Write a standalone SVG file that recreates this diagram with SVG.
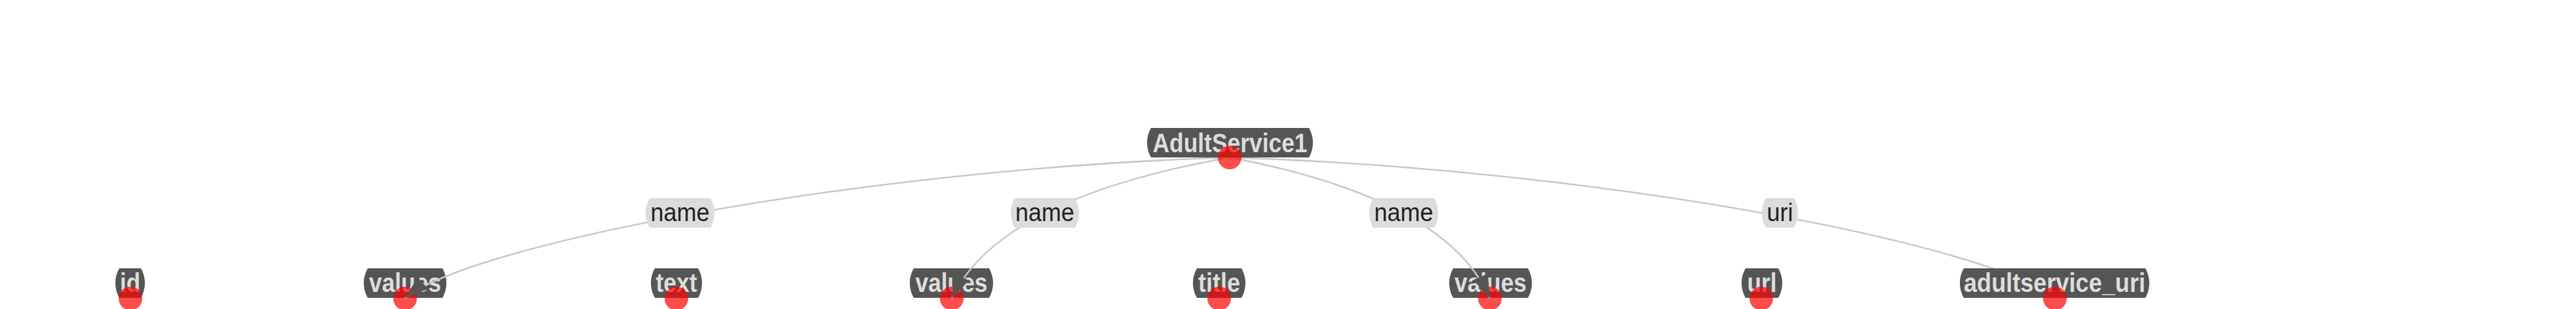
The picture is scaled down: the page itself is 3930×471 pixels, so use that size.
<svg xmlns="http://www.w3.org/2000/svg" width="3930" height="471" viewBox="0 0 3930 471">
<style>
.nb{fill:#555555}
.nt{font-family:"Liberation Sans",Arial,sans-serif;font-weight:bold;font-size:41px;fill:#dddddd;text-anchor:middle}
.lb{fill:#dcdcdc}
.lt{font-family:"Liberation Sans",Arial,sans-serif;font-size:38px;fill:#222222;text-anchor:middle}
.dot{fill:#ff0000;fill-opacity:0.7}
.edge{fill:none;stroke:#c8c8c8;stroke-width:2.5;marker-end:url(#arrow)}
</style>
<defs>
<marker id="arrow" markerUnits="userSpaceOnUse" viewBox="0 -14 38 28" markerWidth="38" markerHeight="28" refX="36" refY="0" orient="auto">
<path d="M0,-12 L36,0 L0,12 Z" fill="#555555"/>
</marker>
</defs>
<rect width="3930" height="471" fill="#ffffff"/>

<g id="node-id">
<path class="nb" d="M182,409 H215 A45,45 0 0 1 215,454 H182 A45,45 0 0 1 182,409 Z"/>
<text class="nt" x="198.5" y="445" textLength="31" lengthAdjust="spacingAndGlyphs">id</text>
<circle class="dot" cx="199" cy="455" r="18"/>
</g>
<g id="node-values1">
<path class="nb" d="M561,409 H675 A45,45 0 0 1 675,454 H561 A45,45 0 0 1 561,409 Z"/>
<text class="nt" x="618" y="445" textLength="110" lengthAdjust="spacingAndGlyphs">values</text>
<circle class="dot" cx="618" cy="455" r="18"/>
</g>
<g id="node-text">
<path class="nb" d="M999,409 H1065 A45,45 0 0 1 1065,454 H999 A45,45 0 0 1 999,409 Z"/>
<text class="nt" x="1032" y="445" textLength="63" lengthAdjust="spacingAndGlyphs">text</text>
<circle class="dot" cx="1032" cy="455" r="18"/>
</g>
<g id="node-values2">
<path class="nb" d="M1394,409 H1509 A45,45 0 0 1 1509,454 H1394 A45,45 0 0 1 1394,409 Z"/>
<text class="nt" x="1451.5" y="445" textLength="110" lengthAdjust="spacingAndGlyphs">values</text>
<circle class="dot" cx="1452" cy="455" r="18"/>
</g>
<g id="node-title">
<path class="nb" d="M1826,409 H1894 A45,45 0 0 1 1894,454 H1826 A45,45 0 0 1 1826,409 Z"/>
<text class="nt" x="1860" y="445" textLength="64" lengthAdjust="spacingAndGlyphs">title</text>
<circle class="dot" cx="1860" cy="455" r="18"/>
</g>
<g id="node-values3">
<path class="nb" d="M2217,409 H2331 A45,45 0 0 1 2331,454 H2217 A45,45 0 0 1 2217,409 Z"/>
<text class="nt" x="2274" y="445" textLength="110" lengthAdjust="spacingAndGlyphs">values</text>
<circle class="dot" cx="2273" cy="455" r="18"/>
</g>
<g id="node-url">
<path class="nb" d="M2663,409 H2713 A45,45 0 0 1 2713,454 H2663 A45,45 0 0 1 2663,409 Z"/>
<text class="nt" x="2688" y="445" textLength="45" lengthAdjust="spacingAndGlyphs">url</text>
<circle class="dot" cx="2687" cy="455" r="18"/>
</g>

<g id="connectors">
<path class="edge" d="M1876,240 C1300,258 710,375 618,455"/>
<path class="edge" d="M1876,240 Q1524,302.5 1452,455"/>
<path class="edge" d="M1876,240 Q2207.5,302.5 2273,455"/>
<path class="edge" d="M1876,240 C2452,258 3042,375 3135,455"/>
</g>

<g id="edge-labels">
<g id="label-name1">
<path class="lb" d="M991,302 H1084 A45,45 0 0 1 1084,347 H991 A45,45 0 0 1 991,302 Z"/>
<text class="lt" x="1037.5" y="337" textLength="90" lengthAdjust="spacingAndGlyphs">name</text>
</g>
<g id="label-name2">
<path class="lb" d="M1548,302 H1640 A45,45 0 0 1 1640,347 H1548 A45,45 0 0 1 1548,302 Z"/>
<text class="lt" x="1594" y="337" textLength="90" lengthAdjust="spacingAndGlyphs">name</text>
</g>
<g id="label-name3">
<path class="lb" d="M2095,302 H2188 A45,45 0 0 1 2188,347 H2095 A45,45 0 0 1 2095,302 Z"/>
<text class="lt" x="2141.5" y="337" textLength="90" lengthAdjust="spacingAndGlyphs">name</text>
</g>
<g id="label-uri">
<path class="lb" d="M2694,302 H2737 A45,45 0 0 1 2737,347 H2694 A45,45 0 0 1 2694,302 Z"/>
<text class="lt" x="2715.5" y="337" textLength="40" lengthAdjust="spacingAndGlyphs">uri</text>
</g>
</g>

<g id="node-adultservice_uri">
<path class="nb" d="M2996,409 H3273 A45,45 0 0 1 3273,454 H2996 A45,45 0 0 1 2996,409 Z"/>
<text class="nt" x="3134.5" y="445" textLength="277" lengthAdjust="spacingAndGlyphs">adultservice_uri</text>
<circle class="dot" cx="3135" cy="455" r="18"/>
</g>

<g id="node-AdultService1">
<path class="nb" d="M1756,195 H1997 A45,45 0 0 1 1997,240 H1756 A45,45 0 0 1 1756,195 Z"/>
<text class="nt" x="1876.5" y="232" textLength="236" lengthAdjust="spacingAndGlyphs">AdultService1</text>
<circle class="dot" cx="1876" cy="240" r="18"/>
</g>
</svg>
